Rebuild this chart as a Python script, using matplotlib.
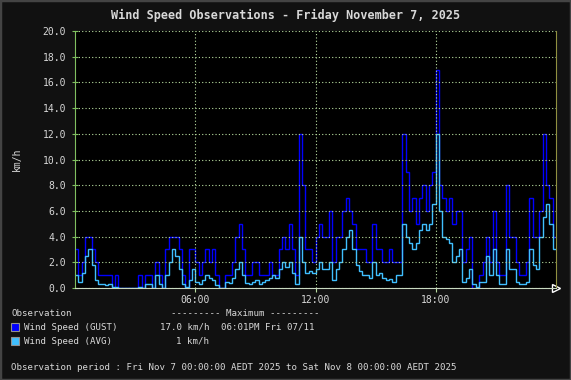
import numpy as np
import matplotlib
matplotlib.use("Agg")
import matplotlib.pyplot as plt
from matplotlib.patches import Rectangle

# 10-minute samples from 00:00 to 23:50 (km/h)
gust = [3, 1, 2, 4, 4, 3, 2, 1, 1, 1, 1, 0,
        1, 0, 0, 0, 0, 0, 0, 1, 0, 1, 1, 0,
        2, 1, 0, 3, 4, 4, 4, 3, 1, 0, 3, 3,
        2, 1, 2, 3, 2, 3, 1, 0, 0, 1, 1, 2,
        4, 5, 3, 1, 1, 2, 2, 1, 1, 1, 2, 1,
        1, 3, 4, 3, 5, 3, 1, 12, 8, 3, 3, 2,
        4, 5, 4, 4, 6, 2, 4, 4, 6, 7, 6, 5,
        3, 3, 3, 2, 2, 5, 3, 3, 2, 2, 3, 2,
        2, 2, 12, 9, 6, 7, 5, 7, 8, 6, 8, 9,
        17, 8, 7, 6, 7, 5, 6, 6, 2, 3, 4, 0,
        0, 1, 2, 4, 2, 6, 2, 1, 1, 8, 4, 4,
        2, 1, 1, 2, 7, 4, 4, 6, 12, 8, 7, 4]
avg = [1.0, 0.5, 1.2, 2.5, 3.0, 1.8, 0.6, 0.3, 0.3, 0.2, 0.3, 0.1,
       0.1, 0.0, 0.0, 0.0, 0.0, 0.0, 0.0, 0.1, 0.0, 0.3, 0.3, 0.0,
       1.0, 0.3, 0.0, 1.0, 2.0, 3.0, 2.5, 1.5, 0.3, 0.1, 0.6, 1.5,
       0.5, 0.3, 0.6, 1.0, 0.8, 0.6, 0.2, 0.0, 0.0, 0.5, 0.4, 0.8,
       1.5, 2.0, 1.0, 0.4, 0.3, 0.5, 0.6, 0.3, 0.5, 0.6, 0.8, 1.0,
       0.8, 1.5, 2.0, 1.6, 2.0, 1.2, 0.3, 4.0, 2.0, 1.2, 1.3, 1.2,
       1.5, 2.0, 1.5, 1.5, 2.0, 0.6, 1.5, 2.0, 3.0, 4.0, 4.5, 3.0,
       1.8, 1.3, 1.0, 1.0, 0.8, 2.0, 1.0, 1.2, 0.8, 0.6, 0.7, 0.5,
       1.0, 1.0, 5.0, 4.0, 3.5, 3.0, 3.5, 4.5, 5.0, 4.5, 5.0, 6.5,
       12.0, 6.0, 4.0, 3.8, 3.5, 2.0, 2.5, 3.0, 0.5, 0.8, 1.5, 0.3,
       0.1, 0.5, 0.5, 2.5, 1.0, 3.0, 1.0, 0.3, 0.3, 3.0, 1.5, 1.5,
       0.5, 0.3, 0.3, 0.5, 3.0, 1.8, 1.5, 4.0, 5.5, 6.5, 5.0, 3.0]
step_min = 10

xtick_min = [360, 720, 1080]
xtick_labels = ["06:00", "12:00", "18:00"]
yticks = np.arange(0, 21, 2)

fg = "#d8d8d8"
grid_c = "#b8dca0"
mono = "DejaVu Sans Mono"

fig = plt.figure(figsize=(5.71, 3.80), dpi=100, facecolor="#111111")
fig.patches.append(Rectangle((0, 0), 1, 1, transform=fig.transFigure,
                             fill=False, edgecolor="#444444", lw=2.5))
ax = fig.add_axes([75 / 571, 92 / 380, 481 / 571, 257 / 380], facecolor="black")

edges = np.arange(len(gust) + 1) * step_min
ax.stairs(gust, edges, baseline=None, color="#0000ff", lw=1.0)
ax.stairs(avg, edges, baseline=None, color="#40bfff", lw=1.0)

ax.set_xlim(0, 1440)
ax.set_ylim(0, 20)
ax.set_yticks(yticks)
ax.set_yticklabels(["%.1f" % v for v in yticks], family=mono, fontsize=7, color=fg)
ax.set_xticks(xtick_min)
ax.set_xticklabels(xtick_labels, family=mono, fontsize=7, color=fg)
ax.grid(True, color=grid_c, linestyle=(0, (1, 2)), lw=0.8)
ax.tick_params(axis="y", direction="inout", length=5, color="#80c060", pad=4)
ax.tick_params(axis="x", direction="out", length=3, color=grid_c, pad=2)
ax.spines["top"].set_visible(False)
ax.spines["left"].set_color("#80c060")
ax.spines["bottom"].set_color("#c8d8c0")
ax.spines["right"].set_color("#909040")
ax.plot([1.0], [0], marker=">", transform=ax.transAxes, ms=6, mfc="black",
        mec="white", clip_on=False, mew=1)

ax.set_ylabel("km/h", family=mono, fontsize=7, color=fg, labelpad=15)
fig.text(0.5, 1 - 15 / 380, "Wind Speed Observations - Friday November 7, 2025",
         ha="center", va="center", family=mono, fontsize=8.5, weight="bold", color=fg)

def t(x, y, s, ha="left"):
    fig.text(x / 571, 1 - y / 380, s, ha=ha, va="center", family=mono,
             fontsize=6.6, color=fg)

t(11, 314, "Observation")
t(171, 314, "--------- Maximum ---------")
for yy, col, name in [(327, "#0000ff", "Wind Speed (GUST)"), (341, "#40bfff", "Wind Speed (AVG)")]:
    fig.patches.append(Rectangle((11 / 571, 1 - (yy + 4) / 380), 8 / 571, 8 / 380,
                                 transform=fig.transFigure, facecolor=col,
                                 edgecolor="#909090", lw=0.8))
    t(24, yy, name)
t(209, 327, "17.0 km/h", ha="right")
t(221, 327, "06:01PM Fri 07/11")
t(209, 341, "1 km/h", ha="right")
t(11, 367, "Observation period : Fri Nov 7 00:00:00 AEDT 2025 to Sat Nov 8 00:00:00 AEDT 2025")

fig.savefig("out.png", dpi=100, facecolor=fig.get_facecolor())
